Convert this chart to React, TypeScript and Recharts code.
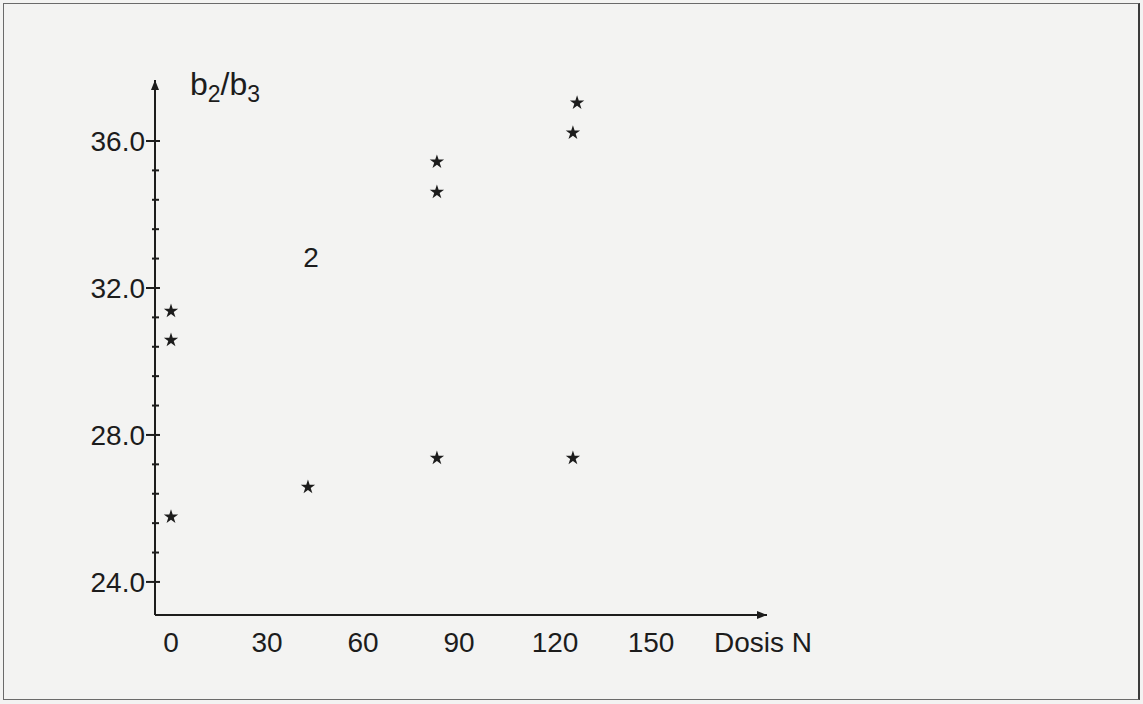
import { ScatterChart, Scatter, XAxis, YAxis, ZAxis, ReferenceDot } from 'recharts'

// N dose (kg/ha) and b2/b3 ratio for each star
const doseN = [0, 0, 0, 42.8, 83.1, 83.1, 83.1, 125.6, 126.9, 125.6]
const ratioB2B3 = [31.37, 30.58, 25.77, 26.58, 35.43, 34.61, 27.37, 36.22, 37.04, 27.37]

const xTicks = [0, 30, 60, 90, 120, 150]
const yTicks = [24, 24.8, 25.6, 26.4, 27.2, 28, 28.8, 29.6, 30.4, 31.2, 32, 32.8, 33.6, 34.4, 35.2, 36]
const yLabelledTicks = [24, 28, 32, 36]

// the lone "2" written inside the plot
const groupMark = { x: 43.75, y: 32.84, text: '2' }

const INK = '#1c1c1c'
const FONT = '"Liberation Sans", Arial, sans-serif'

const points = doseN.map((d, i) => ({ dose: d, ratio: ratioB2B3[i] }))

const YTick = (props: any) => {
  const { x, y, payload } = props
  const major = yLabelledTicks.some(t => Math.abs(t - payload.value) < 0.01)
  return (
    <g>
      <line x1={major ? x - 9 : x - 3} x2={x + (major ? 5 : 4)} y1={y} y2={y} stroke={INK} strokeWidth={2} />
      {major && (
        <text x={x - 10} y={y + 10} textAnchor="end" fontSize={28} fontFamily={FONT} fill={INK}>
          {payload.value.toFixed(1)}
        </text>
      )}
    </g>
  )
}

const XTick = (props: any) => {
  const { x, y, payload } = props
  return (
    <text x={x} y={y + 37} textAnchor="middle" fontSize={28} fontFamily={FONT} fill={INK}>
      {payload.value}
    </text>
  )
}

const yTitle = (p: any) => {
  const vb = p.viewBox
  return (
    <text x={vb.x + vb.width + 35} y={vb.y + 15} fontSize={32} fontFamily={FONT} fill={INK}>
      <tspan>b</tspan>
      <tspan fontSize={23} dy={7}>2</tspan>
      <tspan dy={-7}>/b</tspan>
      <tspan fontSize={23} dy={7}>3</tspan>
    </text>
  )
}

const xTitle = (p: any) => {
  const vb = p.viewBox
  return (
    <text x={vb.x + vb.width - 4} y={vb.y + 37} textAnchor="middle" fontSize={28} fontFamily={FONT} fill={INK}>
      Dosis N
    </text>
  )
}

export default function App() {
  return (
    <div style={{ position: 'absolute', left: 0, top: 0, width: 1143, height: 704, background: '#f3f3f2', fontFamily: FONT }}>
      <svg width={0} height={0} style={{ position: 'absolute' }}>
        <defs>
          <marker id="axisArrow" viewBox="0 0 10 8" refX={10} refY={4} markerWidth={10} markerHeight={8} markerUnits="userSpaceOnUse" orient="auto-start-reverse">
            <path d="M0,0 L10,4 L0,8 z" fill={INK} />
          </marker>
        </defs>
      </svg>
      <div style={{ position: 'absolute', left: 3, top: 3, width: 1134, height: 695, border: '1.5px solid #6a6a6a', borderRightWidth: 2.5, borderRightColor: '#3a3a3a' }} />
      <div style={{ position: 'absolute', left: 0, top: 0 }}>
        <ScatterChart width={1143} height={704} margin={{ top: 80, right: 376, bottom: 49, left: 55 }}>
          <XAxis
            type="number"
            dataKey="dose"
            domain={[-5, 186.25]}
            allowDataOverflow
            ticks={xTicks}
            interval={0}
            tickLine={false}
            tickSize={0}
            tickMargin={0}
            tick={<XTick />}
            height={40}
            axisLine={{ stroke: INK, strokeWidth: 2, markerEnd: 'url(#axisArrow)' }}
            label={{ content: xTitle }}
          />
          <YAxis
            type="number"
            dataKey="ratio"
            domain={[23.1, 37.66]}
            allowDataOverflow
            ticks={yTicks}
            interval={0}
            tickLine={false}
            tickSize={0}
            tickMargin={0}
            tick={<YTick />}
            width={100}
            axisLine={{ stroke: INK, strokeWidth: 2, markerStart: 'url(#axisArrow)' }}
            label={{ content: yTitle }}
          />
          <ZAxis range={[24, 24]} />
          <Scatter data={points} shape="star" fill={INK} isAnimationActive={false} />
          <ReferenceDot
            x={groupMark.x}
            y={groupMark.y}
            r={0}
            stroke="none"
            fill="none"
            label={{ value: groupMark.text, position: 'center', fontSize: 28, fill: INK, fontFamily: FONT }}
          />
        </ScatterChart>
      </div>
    </div>
  )
}
